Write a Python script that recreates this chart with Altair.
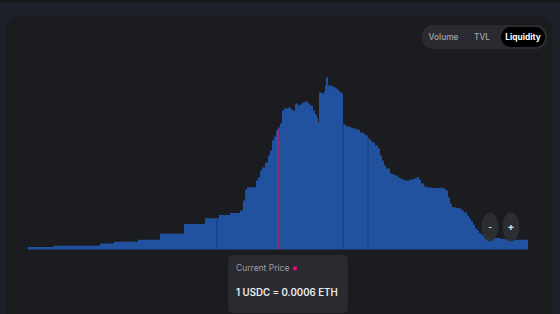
import altair as alt
import pandas as pd

# price tick index (0..500) and liquidity at each step
ticks = [0, 26, 72, 86, 110, 132, 156, 177, 191, 202, 212, 215, 217, 219, 228, 230, 232,
         234, 237, 240, 242, 244, 246, 248, 250, 252, 254, 256, 260, 263, 265, 267, 270,
         272, 274, 277, 280, 282, 285, 287, 289, 290, 291, 294, 296, 297, 298, 300, 304,
         307, 310, 312, 314, 315, 318, 322, 325, 328, 332, 335, 337, 340, 342, 344, 347,
         350, 352, 354, 356, 358, 362, 365, 367, 370, 372, 375, 377, 382, 386, 389, 391,
         393, 396, 399, 404, 412, 416, 418, 420, 422, 424, 428, 432, 434, 436, 439, 441,
         443, 445, 447, 449, 451, 453, 456, 460, 467, 472, 477, 482, 500]
liquidity = [2.5, 3.7, 6, 7.7, 9.7, 15.7, 25.5, 31.3, 34.5, 36.5, 39, 49, 60, 62.3, 69, 72.3, 79,
             82, 87, 94, 99, 109, 113, 119, 122, 126, 139, 141, 142, 140, 139, 146, 144,
             145, 147, 148, 146, 144, 139, 135, 131, 127, 157, 156, 158, 164, 172, 164, 163,
             161, 159, 157, 156, 125, 123, 122, 121, 120, 117, 116, 114, 111, 109, 107, 104,
             101, 94, 89, 84, 81, 76, 75, 74, 72, 71, 69.5, 69, 70, 71, 72.5, 70,
             66, 63, 62, 61.5, 61.7, 60.5, 59, 52, 46, 42.3, 41.5, 40.7, 39, 37, 34, 31,
             28, 25, 21, 19, 16.5, 15, 13, 12, 11.5, 10.7, 10, 9.7, 9.7]

marker_ticks = [189, 315, 340]
marker_liq = [31.3, 125, 111]
current_tick = [250]
current_liq = [120]

toggle_labels = ["Volume", "TVL", "Liquidity"]
price_label = "1 USDC = 0.0006 ETH"

n = min(len(ticks), len(liquidity))
df = pd.DataFrame({"tick": ticks[:n], "liquidity": liquidity[:n]})
dm = pd.DataFrame({"tick": marker_ticks, "liquidity": marker_liq})
dc = pd.DataFrame({"tick": current_tick, "liquidity": current_liq})
one = pd.DataFrame({"a": [0]})

xs = alt.Scale(domain=[0, 500], range=[28, 528])
ys = alt.Scale(domain=[0, 180], range=[249.5, 69.5])
FONT = "Inter"

top_strip = alt.Chart(one).mark_rect(color="#18191c").encode(
    x=alt.value(0), x2=alt.value(560), y=alt.value(0), y2=alt.value(3))
card = alt.Chart(one).mark_rect(color="#1b1c20", cornerRadius=14).encode(
    x=alt.value(6), x2=alt.value(553), y=alt.value(15), y2=alt.value(340))

area = alt.Chart(df).mark_area(interpolate="step-after", color="#2052a0").encode(
    x=alt.X("tick:Q", scale=xs, axis=None),
    y=alt.Y("liquidity:Q", scale=ys, axis=None),
)
stripes = alt.Chart(dm).mark_rule(color="#1a4080", strokeWidth=1.2).encode(
    x=alt.X("tick:Q", scale=xs), y=alt.Y("liquidity:Q", scale=ys), y2=alt.datum(0))
current = alt.Chart(dc).mark_rule(color="#b81f60", strokeWidth=1.5).encode(
    x=alt.X("tick:Q", scale=xs), y=alt.Y("liquidity:Q", scale=ys), y2=alt.datum(0))

# toggle group
tog_bg = alt.Chart(one).mark_rect(color="#2a2b31", cornerRadius=11).encode(
    x=alt.value(422), x2=alt.value(547), y=alt.value(25), y2=alt.value(49))
tog_sel = alt.Chart(one).mark_rect(color="#000000", cornerRadius=10).encode(
    x=alt.value(501), x2=alt.value(545), y=alt.value(27), y2=alt.value(47))
t1 = alt.Chart(one).mark_text(font=FONT, fontSize=8.3, color="#a4a5aa", fontWeight=500,
                              baseline="middle", align="center").encode(
    x=alt.value(443.5), y=alt.value(37.5), text=alt.value(toggle_labels[0]))
t2 = alt.Chart(one).mark_text(font=FONT, fontSize=8.3, color="#a4a5aa", fontWeight=500,
                              baseline="middle", align="center").encode(
    x=alt.value(482), y=alt.value(37.5), text=alt.value(toggle_labels[1]))
t3 = alt.Chart(one).mark_text(font=FONT, fontSize=8.3, color="#ffffff", fontWeight=700,
                              baseline="middle", align="center").encode(
    x=alt.value(523), y=alt.value(37.5), text=alt.value(toggle_labels[2]))

# zoom buttons
ELL = "M -0.58,0 A 0.58,1 0 1,1 0.58,0 A 0.58,1 0 1,1 -0.58,0 Z"
zb1 = alt.Chart(one).mark_point(shape=ELL, filled=True, color="#2c2e34", opacity=0.95, size=841).encode(
    x=alt.value(490), y=alt.value(227))
zb2 = alt.Chart(one).mark_point(shape=ELL, filled=True, color="#2c2e34", opacity=0.95, size=841).encode(
    x=alt.value(511), y=alt.value(227))
zt1 = alt.Chart(one).mark_text(font=FONT, fontSize=9, color="#c8c9cd", fontWeight=700,
                               baseline="middle", align="center").encode(
    x=alt.value(490), y=alt.value(226.5), text=alt.value("-"))
zt2 = alt.Chart(one).mark_text(font=FONT, fontSize=10, color="#e0e1e4", fontWeight=700,
                               baseline="middle", align="center").encode(
    x=alt.value(511), y=alt.value(227), text=alt.value("+"))

# current price box
box = alt.Chart(one).mark_rect(color="#2a2b31", cornerRadius=5).encode(
    x=alt.value(228), x2=alt.value(348), y=alt.value(255), y2=alt.value(313))
bl1 = alt.Chart(one).mark_text(font=FONT, fontSize=8.5, color="#9c9da3",
                               baseline="alphabetic", align="left").encode(
    x=alt.value(236), y=alt.value(271), text=alt.value("Current Price"))
dot = alt.Chart(one).mark_point(shape="circle", filled=True, color="#ff007a", opacity=1, size=16).encode(
    x=alt.value(295), y=alt.value(268.5))
bl2 = alt.Chart(one).mark_text(font=FONT, fontSize=9.7, color="#ececee", fontWeight=600,
                               baseline="alphabetic", align="left").encode(
    x=alt.value(236), y=alt.value(295.5), text=alt.value(price_label))

chart = alt.layer(
    top_strip, card, area, stripes, current,
    tog_bg, tog_sel, t1, t2, t3, zb1, zb2, zt1, zt2, box, bl1, dot, bl2
).resolve_scale(x="shared", y="shared").properties(
    width=560, height=314, background="#1d2029", padding=0,
    autosize=alt.AutoSizeParams(type="none"),
).configure_view(stroke=None)

chart.save("out.html", embed_options={"renderer": "svg", "actions": False})
